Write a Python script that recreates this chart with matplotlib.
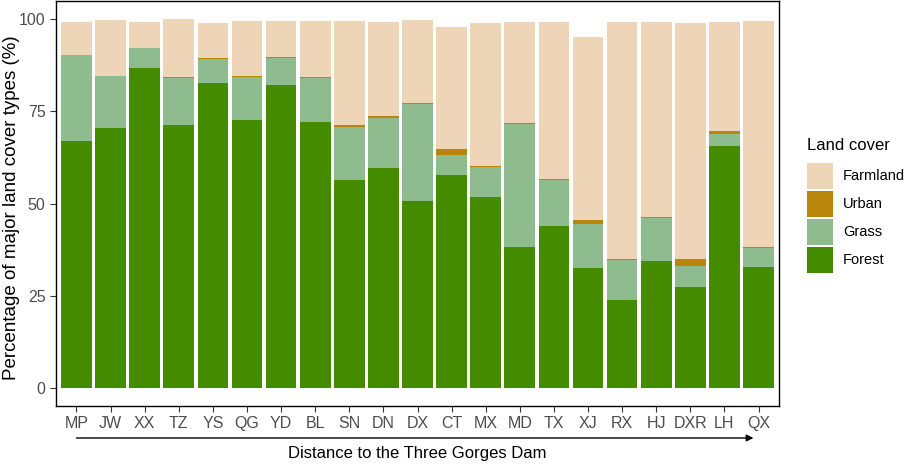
import matplotlib
matplotlib.use("Agg")
import matplotlib.pyplot as plt
from matplotlib.patches import Rectangle
import matplotlib.transforms as mtransforms
import numpy as np

plt.rcParams['font.family'] = ['Liberation Sans', 'DejaVu Sans']

sites = ["MP", "JW", "XX", "TZ", "YS", "QG", "YD", "BL", "SN", "DN", "DX",
         "CT", "MX", "MD", "TX", "XJ", "RX", "HJ", "DXR", "LH", "QX"]
forest = [67.0, 70.4, 86.7, 71.4, 82.7, 72.8, 82.1, 72.2, 56.3, 59.6, 50.7,
          57.8, 51.7, 38.2, 43.9, 32.6, 23.7, 34.5, 27.3, 65.7, 32.7]
grass = [23.2, 14.2, 5.4, 12.6, 6.6, 11.5, 7.4, 11.9, 14.5, 13.7, 26.2,
         5.4, 8.3, 33.3, 12.5, 11.9, 11.0, 11.5, 5.7, 3.1, 5.2]
urban = [0.1, 0.1, 0.1, 0.3, 0.2, 0.3, 0.3, 0.2, 0.5, 0.4, 0.4,
         1.6, 0.3, 0.5, 0.2, 1.0, 0.3, 0.3, 2.0, 0.8, 0.4]
farmland = [9.1, 15.1, 7.2, 15.7, 9.4, 15.0, 9.9, 15.3, 28.3, 25.5, 22.5,
            33.2, 38.6, 27.4, 42.6, 49.8, 64.4, 53.1, 63.9, 29.8, 61.3]

colors = {"Farmland": "#EED5B7", "Urban": "#B8860B",
          "Grass": "#8FBC8F", "Forest": "#458B00"}
legend_order = ["Farmland", "Urban", "Grass", "Forest"]

W, H = 906, 467
fig = plt.figure(figsize=(W/100, H/100), dpi=100)
ax = fig.add_axes([56/W, 1 - 406/H, (779-56)/W, 405/H])

x = np.arange(len(sites))
bottom = np.zeros(len(sites))
for name, vals in [("Forest", forest), ("Grass", grass), ("Urban", urban), ("Farmland", farmland)]:
    ax.bar(x, vals, width=0.9, bottom=bottom, color=colors[name], linewidth=0)
    bottom += np.array(vals)

ax.set_xlim(-0.6, len(sites) - 0.4)
ax.set_ylim(-5, 105)
ax.set_yticks([0, 25, 50, 75, 100])
ax.set_xticks(x)
ax.set_xticklabels(sites)
ax.tick_params(axis='both', colors='#333333', labelcolor='#4D4D4D',
               labelsize=11.5, length=4, width=0.8)
for s in ax.spines.values():
    s.set_color('black')
    s.set_linewidth(1.0)

ax.set_ylabel("Percentage of major land cover types (%)", fontsize=13.5)
ax.yaxis.set_label_coords(-0.061, 0.49)
ax.yaxis.label.set_verticalalignment('center')
ax.set_xlabel("Distance to the Three Gorges Dam", fontsize=12)
ax.xaxis.set_label_coords(0.5, -0.1185)
ax.xaxis.label.set_verticalalignment('center')

# arrow under the tick labels
trans = mtransforms.blended_transform_factory(ax.transData, ax.transAxes)
ax.annotate("", xy=(19.85, -0.079), xytext=(0, -0.079),
            xycoords=trans, textcoords=trans,
            arrowprops=dict(arrowstyle="-|>", color="black", lw=1.0,
                            mutation_scale=10, shrinkA=0, shrinkB=0),
            annotation_clip=False)

# legend drawn by hand (ggplot style keys)
fig.text(807/W, 1 - 145/H, "Land cover", fontsize=12, va='center', ha='left')
for i, name in enumerate(legend_order):
    top = 163 + i * 28
    fig.patches.append(Rectangle((807/W, 1 - (top + 26)/H), 26/W, 26/H,
                                 facecolor=colors[name], edgecolor='none',
                                 transform=fig.transFigure, figure=fig))
    fig.text(843/W, 1 - (top + 13)/H, name, fontsize=10.5, va='center', ha='left')

fig.savefig("out.png", dpi=100)
